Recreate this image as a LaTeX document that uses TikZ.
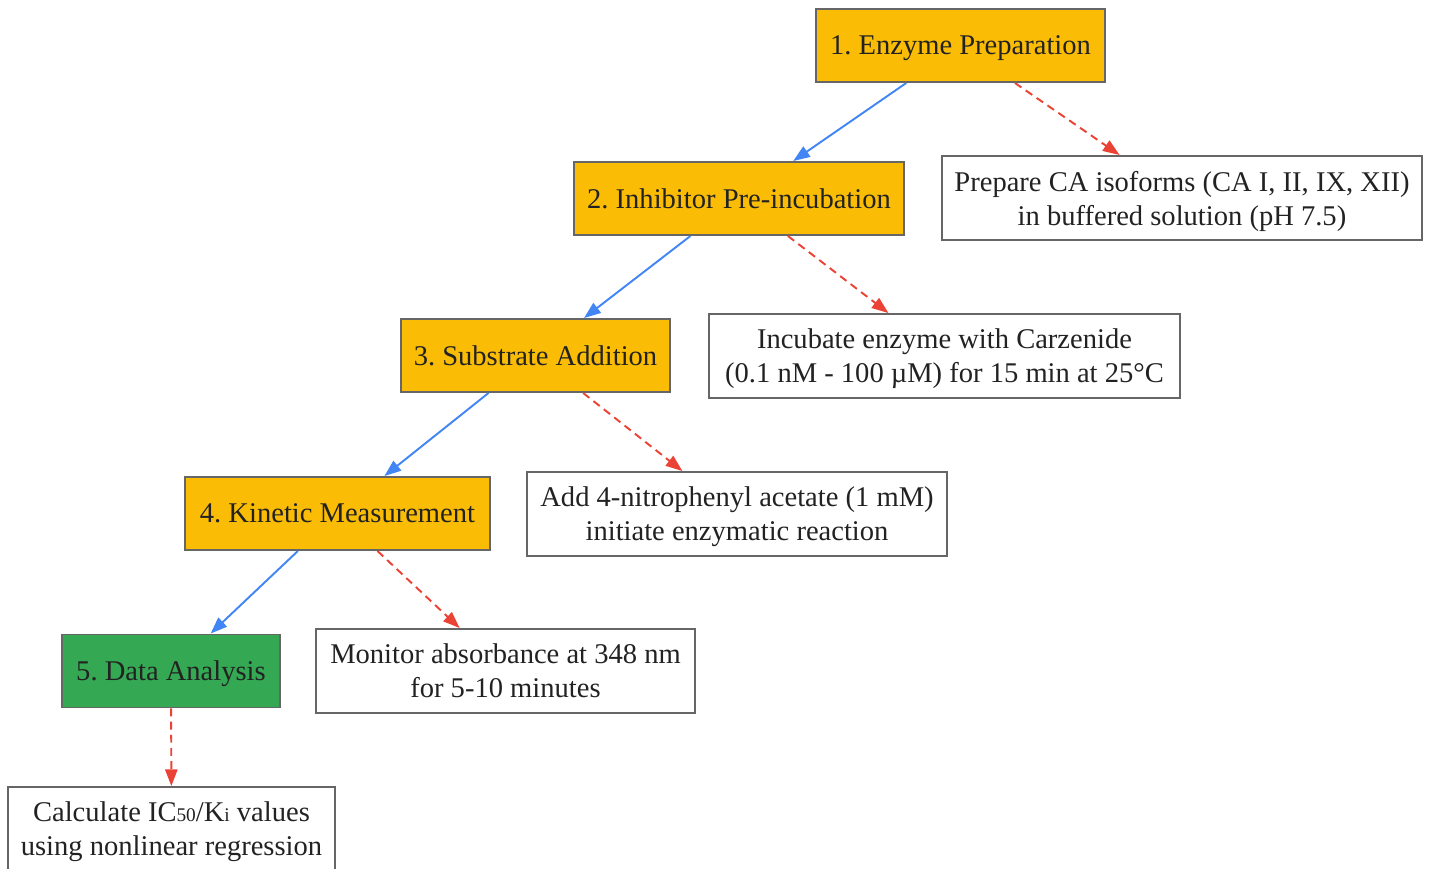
\documentclass[tikz,border=0pt]{standalone}
\usepackage{fontspec}
\setmainfont{Liberation Serif}
\usetikzlibrary{arrows.meta}
\definecolor{stepfill}{HTML}{FBBC05}
\definecolor{endfill}{HTML}{34A853}
\definecolor{flowblue}{HTML}{4285F4}
\definecolor{notered}{HTML}{EA4335}
\definecolor{edge}{HTML}{666666}
\definecolor{ink}{HTML}{222222}
\newcommand{\smallsub}[1]{{\fontsize{11}{11}\selectfont #1}}
\frenchspacing

\begin{document}
\begin{tikzpicture}[x=0.02cm,y=-0.02cm,
    every node/.style={font=\fontsize{16.25}{19.3}\selectfont,text=ink,align=center,text depth=-4.2pt},
    stepbox/.style={draw=edge,line width=1.1pt,fill=stepfill,minimum height=1.46cm},
    notebox/.style={draw=edge,line width=1.1pt,fill=white,minimum height=1.68cm},
    flow/.style={draw=flowblue,line width=1.1pt,-{Triangle[length=9.5pt,width=7pt]}},
    note/.style={draw=notered,line width=1.1pt,dash pattern=on 4.5pt off 3pt,-{Triangle[length=9.5pt,width=7pt]}}]
  \useasboundingbox (0,0) rectangle (1431,869);
  % main steps
  \node[stepbox,minimum width=5.78cm] (prep) at (960.5,45.5) {1. Enzyme Preparation};
  \node[stepbox,minimum width=6.6cm] (preinc) at (739,198.5) {2. Inhibitor Pre-incubation};
  \node[stepbox,minimum width=5.38cm] (subst) at (535.5,355.5) {3. Substrate Addition};
  \node[stepbox,minimum width=6.1cm] (kinetic) at (337.5,513.5) {4. Kinetic Measurement};
  \node[stepbox,fill=endfill,minimum width=4.36cm] (analysis) at (171,671) {5. Data Analysis};
  % notes
  \node[notebox,minimum width=9.6cm] (prepnote) at (1182,198) {Prepare CA isoforms (CA I, II, IX, XII)\\in buffered solution (pH 7.5)};
  \node[notebox,minimum width=9.42cm] (preincnote) at (944.5,356) {Incubate enzyme with Carzenide\\(0.1 nM - 100 µM) for 15 min at 25°C};
  \node[notebox,minimum width=8.4cm] (substnote) at (737,514) {Add 4-nitrophenyl acetate (1 mM)\\initiate enzymatic reaction};
  \node[notebox,minimum width=7.58cm] (kineticnote) at (505.5,671) {Monitor absorbance at 348 nm\\for 5-10 minutes};
  \node[notebox,minimum width=6.54cm] (analysisnote) at (171.5,829) {Calculate IC\smallsub{50}/K\smallsub{i} values\\using nonlinear regression};
  % connectors
  \draw[flow] (prep) -- (preinc);
  \draw[flow] (preinc) -- (subst);
  \draw[flow] (subst) -- (kinetic);
  \draw[flow] (kinetic) -- (analysis);
  \draw[note] (prep) -- (prepnote);
  \draw[note] (preinc) -- (preincnote);
  \draw[note] (subst) -- (substnote);
  \draw[note] (kinetic) -- (kineticnote);
  \draw[note] (analysis) -- (analysisnote);
\end{tikzpicture}
\end{document}
